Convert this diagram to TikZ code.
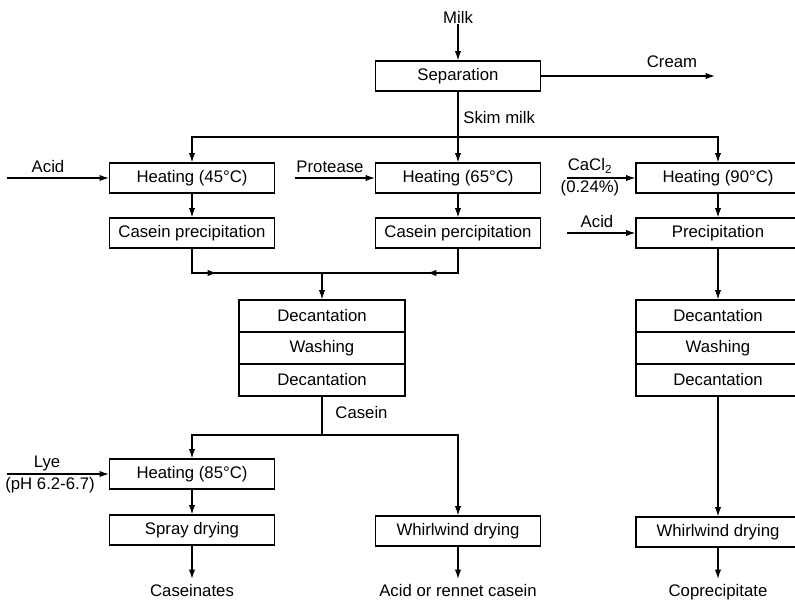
\documentclass[tikz,border=0pt]{standalone}
\usepackage{fontspec}
\setmainfont{Liberation Sans}
\usetikzlibrary{arrows.meta,positioning}
\tikzset{
  box/.style={draw=black, line width=1pt, minimum width=49.5mm, minimum height=9mm,
              inner sep=1pt},                                  % process step
  row/.style={box, minimum height=9.6mm},                      % row of a stacked step
  ln/.style={draw=black, line width=1pt},                      % plain line
  arr/.style={ln, -{Latex[length=2.8mm, width=1.9mm]}},        % flow arrow
  txt/.style={inner sep=1pt},                                  % free text
  outp/.style={inner xsep=1pt, inner ysep=6pt, text height=1.6ex, text depth=.3ex},
}

\begin{document}
\begin{tikzpicture}[x=0.3mm, y=-0.3mm, font=\fontsize{14.3}{16}\selectfont]
  \useasboundingbox (0,0) rectangle (795,602);
  % ---------------- top: separation ----------------
  \node[txt]  (milk)  at (458,17)  {Milk};
  \node[box]  (sep)   at (458,76)  {Separation};
  \node[txt]  (cream) at (672,62)  {Cream};
  \coordinate (creamend) at (715,76);
  \node[txt, right] (skim) at (462,118) {Skim milk};
  \coordinate (split) at (458,137);
  \draw[arr] (milk) -- (sep);
  \draw[arr] (sep) -- (creamend);
  \draw[ln]  (sep) -- (split);
  % ---------------- three branches ----------------
  \node[box] (heatA) at (192,178) {Heating (45\textdegree C)};
  \node[box] (precA) at (192,233) {Casein precipitation};
  \node[box] (heatB) at (458,178) {Heating (65\textdegree C)};
  \node[box] (precB) at (458,233) {Casein percipitation};
  \node[box, minimum width=49.2mm] (heatC) at (718,178) {Heating (90\textdegree C)};
  \node[box, minimum width=49.2mm] (precC) at (718,233) {Precipitation};
  \draw[arr] (split) -| (heatA);
  \draw[arr] (split) -- (heatB);
  \draw[arr] (split) -| (heatC);
  \draw[arr] (heatA) -- (precA);
  \draw[arr] (heatB) -- (precB);
  \draw[arr] (heatC) -- (precC);
  % additions coming in from the left
  \coordinate (acidA) at (7,178);
  \node[txt] (acidAl) at (48,167) {Acid};
  \draw[arr] (acidA) -- (heatA);
  \coordinate (prot) at (295,178);
  \node[txt] (protl) at (330,167) {Protease};
  \draw[arr] (prot) -- (heatB);
  \coordinate (cacl) at (567,178);
  \node[txt] (cacll) at (590,166) {CaCl\textsubscript{2}};
  \node[txt] (caclp) at (590,188) {(0.24\%)};
  \draw[arr] (cacl) -- (heatC);
  \coordinate (acidC) at (567,233);
  \node[txt] (acidCl) at (597,222) {Acid};
  \draw[arr] (acidC) -- (precC);
  % ---------------- merge into washing ----------------
  \coordinate (join) at (322,273);
  \coordinate (tipA) at (217,273);
  \coordinate (tipB) at (427,273);
  \node[row, minimum width=49.8mm] (decA1) at (322,316) {Decantation};
  \node[row, minimum width=49.8mm, below=-1pt of decA1] (washA) {Washing};
  \node[row, minimum width=49.8mm, below=-1pt of washA] (decA2) {Decantation};
  \draw[ln]  (precA) |- (join);
  \draw[arr] (precA.south |- join) -- (tipA);
  \draw[ln]  (precB) |- (join);
  \draw[arr] (precB.south |- join) -- (tipB);
  \draw[arr] (join) -- (decA1);
  % right stack
  \node[row, minimum width=49.2mm] (decC1) at (718,316) {Decantation};
  \node[row, minimum width=49.2mm, below=-1pt of decC1] (washC) {Washing};
  \node[row, minimum width=49.2mm, below=-1pt of washC] (decC2) {Decantation};
  \draw[arr] (precC) -- (decC1);
  % ---------------- casein to products ----------------
  \node[txt, right] (casein) at (334,413) {Casein};
  \coordinate (split2) at (322,435);
  \draw[ln] (decA2) -- (split2);
  \node[box] (heatD)  at (192,474) {Heating (85\textdegree C)};
  \node[box] (spray)  at (192,530) {Spray drying};
  \node[box] (whirlB) at (458,531) {Whirlwind drying};
  \node[box, minimum width=49.2mm] (whirlC) at (718,532) {Whirlwind drying};
  \draw[arr] (split2) -| (heatD);
  \draw[arr] (split2) -| (whirlB);
  \draw[arr] (heatD) -- (spray);
  \draw[arr] (decC2) -- (whirlC);
  \coordinate (lye) at (7,474);
  \node[txt] (lyel) at (47,463) {Lye};
  \node[txt] (lyep) at (50,485) {(pH 6.2-6.7)};
  \draw[arr] (lye) -- (heatD);
  % outputs
  \node[outp] (casnt) at (192,592) {Caseinates};
  \node[outp] (acidrc) at (458,592) {Acid or rennet casein};
  \node[outp] (coprc) at (718,592) {Coprecipitate};
  \draw[arr] (spray) -- (casnt);
  \draw[arr] (whirlB) -- (acidrc);
  \draw[arr] (whirlC) -- (coprc);
\end{tikzpicture}
\end{document}
